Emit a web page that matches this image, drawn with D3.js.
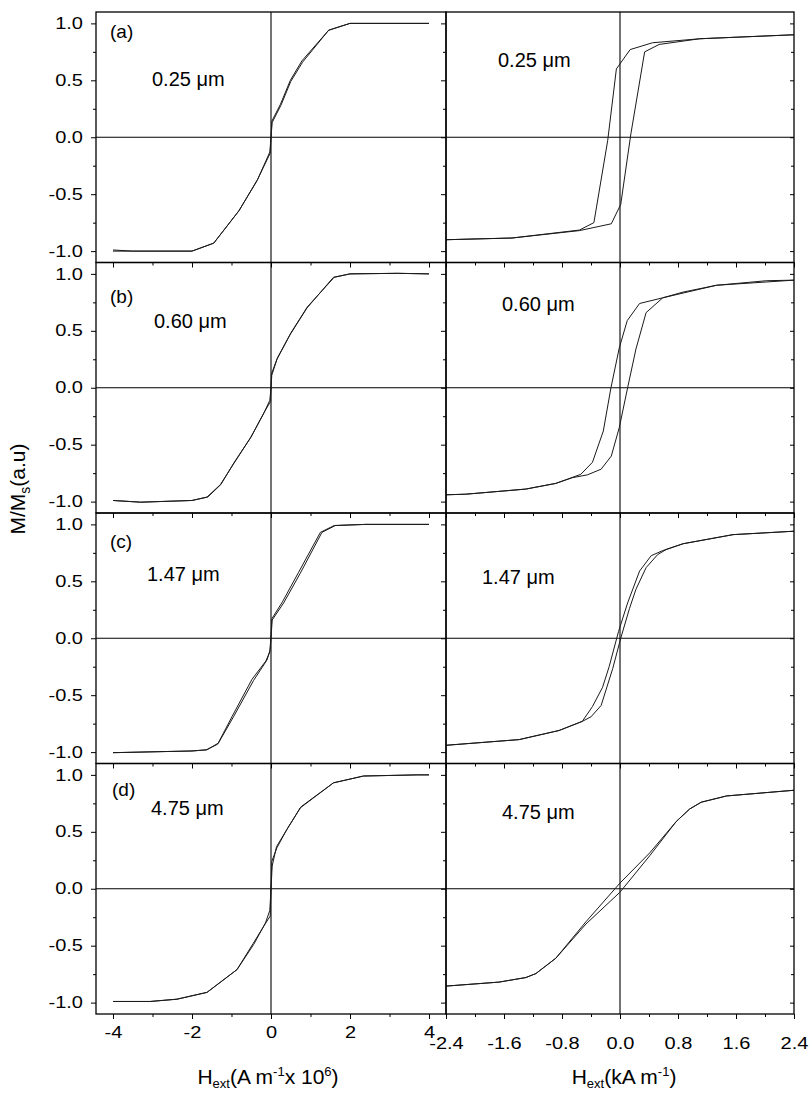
<!DOCTYPE html>
<html><head><meta charset="utf-8">
<script src="https://cdn.jsdelivr.net/npm/d3@7"></script>
<style>
body{margin:0;background:#fff}
svg{display:block}
text{font-family:"Liberation Sans",Arial,Helvetica,sans-serif;fill:#000}
</style>
</head><body>
<svg id="chart" width="810" height="1093"></svg>
<script>
// ---------------- DATA ----------------
const panelLabels = ["(a)", "(b)", "(c)", "(d)"];
const thicknessLabels = ["0.25 \u03bcm", "0.60 \u03bcm", "1.47 \u03bcm", "4.75 \u03bcm"];

const leftXMajor = [-4, -2, 0, 2, 4];
const leftXMajorLabels = ["-4", "-2", "0", "2", "4"];
const leftXMinor = [-3, -1, 1, 3];
const rightXMajor = [-2.4, -1.6, -0.8, 0, 0.8, 1.6, 2.4];
const rightXMajorLabels = ["-2.4", "-1.6", "-0.8", "0.0", "0.8", "1.6", "2.4"];
const rightXMinor = [-2.0, -1.2, -0.4, 0.4, 1.2, 2.0];
const yMajor = [-1, -0.5, 0, 0.5, 1];
const yMajorLabels = ["-1.0", "-0.5", "0.0", "0.5", "1.0"];
const yMinor = [-0.75, -0.25, 0.25, 0.75];

// Left column: H in A m^-1 x 10^6 ; [H, M/Ms]
const leftA_up = [[-4,-0.99],[-3.5,-1.0],[-2,-1.0],[-1.45,-0.93],[-0.82,-0.65],[-0.35,-0.38],[-0.03,-0.13],[0.0,0.0],[0.02,0.14],[0.24,0.29],[0.49,0.5],[0.78,0.67],[1.46,0.94],[2.0,1.0],[4.0,1.0]];
const leftA_down = [[4.0,1.0],[2.0,1.0],[1.46,0.94],[0.8,0.66],[0.5,0.49],[0.25,0.28],[0.03,0.13],[0.0,0.0],[-0.02,-0.14],[-0.34,-0.37],[-0.8,-0.64],[-1.45,-0.93],[-2.0,-1.0],[-4.0,-1.0]];

const leftB_up = [[-4.0,-0.99],[-3.3,-1.005],[-2.0,-0.99],[-1.62,-0.96],[-1.28,-0.85],[-0.95,-0.67],[-0.52,-0.44],[-0.19,-0.23],[-0.03,-0.11],[0.0,0.0],[0.01,0.12],[0.15,0.25],[0.49,0.47],[0.91,0.70],[1.58,0.97],[2.0,1.0],[3.2,1.005],[4.0,1.0]];
const leftB_down = [[4.0,1.0],[3.2,1.005],[2.0,1.0],[1.6,0.97],[0.92,0.71],[0.5,0.48],[0.16,0.26],[0.02,0.11],[0.0,0.0],[-0.01,-0.12],[-0.18,-0.22],[-0.5,-0.43],[-0.94,-0.66],[-1.27,-0.85],[-1.6,-0.96],[-2.0,-0.99],[-3.3,-1.005],[-4.0,-0.99]];

const leftC_up = [[-4.0,-1.005],[-2.0,-0.99],[-1.62,-0.98],[-1.33,-0.92],[-0.95,-0.69],[-0.44,-0.37],[-0.1,-0.19],[-0.02,-0.10],[0.0,0.0],[0.03,0.16],[0.32,0.31],[0.74,0.57],[1.29,0.93],[1.63,0.99],[2.4,1.0],[4.0,1.0]];
const leftC_down = [[4.0,1.0],[2.4,1.0],[1.6,0.99],[1.25,0.93],[0.7,0.58],[0.29,0.32],[0.02,0.17],[0.0,0.02],[-0.03,-0.12],[-0.13,-0.2],[-0.48,-0.36],[-0.99,-0.69],[-1.35,-0.93],[-1.64,-0.98],[-2.0,-0.99],[-4.0,-1.005]];

const leftD_up = [[-4.0,-0.99],[-3.06,-0.99],[-2.38,-0.97],[-1.62,-0.91],[-0.86,-0.71],[-0.44,-0.49],[-0.14,-0.30],[-0.03,-0.19],[0.0,0.0],[0.02,0.24],[0.15,0.36],[0.4,0.52],[0.74,0.71],[1.58,0.93],[2.34,0.99],[3.7,1.0],[4.0,1.0]];
const leftD_down = [[4.0,1.0],[3.7,1.0],[2.34,0.99],[1.58,0.93],[0.76,0.72],[0.42,0.53],[0.14,0.37],[0.03,0.2],[0.0,0.0],[-0.02,-0.24],[-0.15,-0.31],[-0.45,-0.48],[-0.86,-0.71],[-1.62,-0.91],[-2.38,-0.97],[-3.06,-0.99],[-4.0,-0.99]];

// Right column: H in kA m^-1 ; [H, M/Ms]
const rightA_up = [[-2.4,-0.90],[-1.49,-0.885],[-0.56,-0.82],[-0.12,-0.76],[0.01,-0.59],[0.15,0.03],[0.34,0.75],[0.54,0.815],[1.10,0.865],[2.4,0.90]];
const rightA_down = [[2.4,0.90],[1.10,0.865],[0.45,0.83],[0.14,0.77],[-0.05,0.60],[-0.17,-0.03],[-0.36,-0.75],[-0.56,-0.815],[-1.49,-0.885],[-2.4,-0.90]];

const rightB_up = [[-2.4,-0.94],[-2.13,-0.935],[-1.30,-0.89],[-0.885,-0.84],[-0.656,-0.79],[-0.45,-0.765],[-0.26,-0.715],[-0.12,-0.60],[-0.01,-0.35],[0.105,0.0],[0.22,0.34],[0.36,0.66],[0.59,0.79],[0.87,0.84],[1.33,0.90],[2.02,0.94],[2.4,0.945]];
const rightB_down = [[2.4,0.945],[1.33,0.90],[0.59,0.79],[0.27,0.74],[0.10,0.59],[-0.01,0.35],[-0.125,0.0],[-0.23,-0.38],[-0.38,-0.655],[-0.54,-0.76],[-0.885,-0.84],[-1.30,-0.89],[-2.13,-0.935],[-2.4,-0.94]];

const rightC_up = [[-2.4,-0.94],[-1.39,-0.89],[-0.84,-0.81],[-0.52,-0.73],[-0.40,-0.69],[-0.26,-0.59],[-0.10,-0.265],[0.01,0.0],[0.13,0.26],[0.22,0.43],[0.36,0.62],[0.52,0.735],[0.64,0.78],[0.87,0.83],[1.56,0.91],[2.4,0.94]];
const rightC_down = [[2.4,0.94],[1.56,0.91],[0.87,0.83],[0.59,0.77],[0.43,0.725],[0.27,0.59],[0.105,0.31],[-0.02,0.06],[-0.15,-0.25],[-0.24,-0.43],[-0.38,-0.60],[-0.52,-0.73],[-0.84,-0.81],[-1.39,-0.89],[-2.4,-0.94]];

const rightD_up = [[-2.4,-0.855],[-1.67,-0.82],[-1.30,-0.78],[-1.16,-0.745],[-0.885,-0.61],[-0.47,-0.31],[0.0,-0.03],[0.41,0.29],[0.775,0.59],[0.96,0.70],[1.12,0.76],[1.47,0.815],[2.4,0.865]];
const rightD_down = [[2.4,0.865],[1.47,0.815],[1.12,0.76],[0.96,0.70],[0.775,0.59],[0.41,0.315],[0.0,0.05],[-0.47,-0.29],[-0.885,-0.61],[-1.16,-0.745],[-1.30,-0.78],[-1.67,-0.82],[-2.4,-0.855]];

const leftSeries = [[leftA_up, leftA_down], [leftB_up, leftB_down], [leftC_up, leftC_down], [leftD_up, leftD_down]];
const rightSeries = [[rightA_up, rightA_down], [rightB_up, rightB_down], [rightC_up, rightC_down], [rightD_up, rightD_down]];

// ---------------- LAYOUT ----------------
const leftX0 = 96, midX = 446, rightX1 = 794, top0 = 12, panelH = 250.5;
// annotation positions (px relative to panel top)
const annotPos = [
  {lab: [110, 26],   l: [152, 74],   r: [498, 55]},
  {lab: [110, 40.5], l: [154, 65.5], r: [502, 48.5]},
  {lab: [110, 35],   l: [147, 68],   r: [482, 71]},
  {lab: [112, 32.5], l: [151, 51.5], r: [502, 55.5]}
];

const svg = d3.select("#chart");
const xL = d3.scaleLinear().domain([-4.43, 4.43]).range([leftX0, midX]);
const xR = d3.scaleLinear().domain([-2.4, 2.4]).range([midX, rightX1]);
const tickFont = "16px";
const tickScale = "scale(1.25,1)";

function styleAxis(g) {
  g.attr("font-size", null).attr("font-family", null);
  g.select(".domain").remove();
  g.selectAll(".tick line").attr("stroke", "#000").attr("stroke-width", 1);
  g.selectAll(".tick text").style("font-size", tickFont).attr("transform", tickScale).attr("fill", "#000");
}

for (let i = 0; i < 4; i++) {
  const top = top0 + i * panelH;
  const bot = top + panelH;
  const y = d3.scaleLinear().domain([-1.1, 1.1]).range([bot, top]);
  const isLast = i === 3;

  [[xL, leftSeries[i], leftX0, midX], [xR, rightSeries[i], midX, rightX1]].forEach(([x, series, x0, x1], col) => {
    const g = svg.append("g");
    // zero lines
    g.append("line").attr("x1", x0).attr("x2", x1).attr("y1", y(0)).attr("y2", y(0))
      .attr("stroke", "#000").attr("stroke-width", 1.1);
    g.append("line").attr("x1", x(0)).attr("x2", x(0)).attr("y1", top).attr("y2", bot)
      .attr("stroke", "#000").attr("stroke-width", 1.1);
    // curves
    const line = d3.line().x(d => x(d[0])).y(d => y(d[1]));
    series.forEach(s => {
      g.append("path").attr("d", line(s)).attr("fill", "none")
        .attr("stroke", "#1a1a1a").attr("stroke-width", 1).attr("stroke-linejoin", "round");
    });
    // frame
    g.append("rect").attr("x", x0).attr("y", top).attr("width", x1 - x0).attr("height", bot - top)
      .attr("fill", "none").attr("stroke", "#000").attr("stroke-width", 1.3);

    // bottom x ticks
    const major = col === 0 ? leftXMajor : rightXMajor;
    const majorLab = col === 0 ? leftXMajorLabels : rightXMajorLabels;
    const minor = col === 0 ? leftXMinor : rightXMinor;
    const pad = col === 0 ? 8 : 19;
    g.append("g").attr("transform", `translate(0,${bot})`)
      .call(d3.axisBottom(x).tickValues(major).tickSize(5).tickPadding(pad)
        .tickFormat((d, k) => isLast ? majorLab[k] : ""))
      .call(styleAxis);
    g.append("g").attr("transform", `translate(0,${bot})`)
      .call(d3.axisBottom(x).tickValues(minor).tickSize(3).tickFormat(""))
      .call(styleAxis);

    // left y ticks (outward)
    g.append("g").attr("transform", `translate(${x0},0)`)
      .call(d3.axisLeft(y).tickValues(yMajor).tickSize(5).tickPadding(5.4)
        .tickFormat((d, k) => col === 0 ? yMajorLabels[k] : ""))
      .call(styleAxis);
    g.append("g").attr("transform", `translate(${x0},0)`)
      .call(d3.axisLeft(y).tickValues(yMinor).tickSize(3).tickFormat(""))
      .call(styleAxis);

    if (col === 1) {
      // right border ticks pointing inward
      g.append("g").attr("transform", `translate(${x1},0)`)
        .call(d3.axisLeft(y).tickValues(yMajor).tickSize(4).tickFormat(""))
        .call(styleAxis);
      g.append("g").attr("transform", `translate(${x1},0)`)
        .call(d3.axisLeft(y).tickValues(yMinor).tickSize(3).tickFormat(""))
        .call(styleAxis);
    }
  });

  // annotations
  const p = annotPos[i];
  svg.append("text").attr("x", p.lab[0]).attr("y", top + p.lab[1]).style("font-size", "19px").text(panelLabels[i]);
  svg.append("text").attr("x", p.l[0]).attr("y", top + p.l[1]).style("font-size", "20px").text(thicknessLabels[i]);
  svg.append("text").attr("x", p.r[0]).attr("y", top + p.r[1]).style("font-size", "20px").text(thicknessLabels[i]);
}

// y-axis title
const yt = svg.append("text").attr("transform", "translate(25,489) rotate(-90)")
  .attr("text-anchor", "middle").style("font-size", "21px");
yt.append("tspan").text("M/M");
yt.append("tspan").attr("dy", 5).style("font-size", "14px").text("s");
yt.append("tspan").attr("dy", -5).text("(a.u)");

// x-axis titles
const xt1 = svg.append("text").attr("x", 268).attr("y", 1084).attr("text-anchor", "middle").style("font-size", "21px");
xt1.append("tspan").text("H");
xt1.append("tspan").attr("dy", 4).style("font-size", "13px").text("ext");
xt1.append("tspan").attr("dy", -4).text("(A m");
xt1.append("tspan").attr("dy", -8).style("font-size", "13px").text("-1");
xt1.append("tspan").attr("dy", 8).text("x 10");
xt1.append("tspan").attr("dy", -8).style("font-size", "13px").text("6");
xt1.append("tspan").attr("dy", 8).text(")");

const xt2 = svg.append("text").attr("x", 624).attr("y", 1084).attr("text-anchor", "middle").style("font-size", "21px");
xt2.append("tspan").text("H");
xt2.append("tspan").attr("dy", 4).style("font-size", "13px").text("ext");
xt2.append("tspan").attr("dy", -4).text("(kA m");
xt2.append("tspan").attr("dy", -8).style("font-size", "13px").text("-1");
xt2.append("tspan").attr("dy", 8).text(")");
</script>
</body></html>
